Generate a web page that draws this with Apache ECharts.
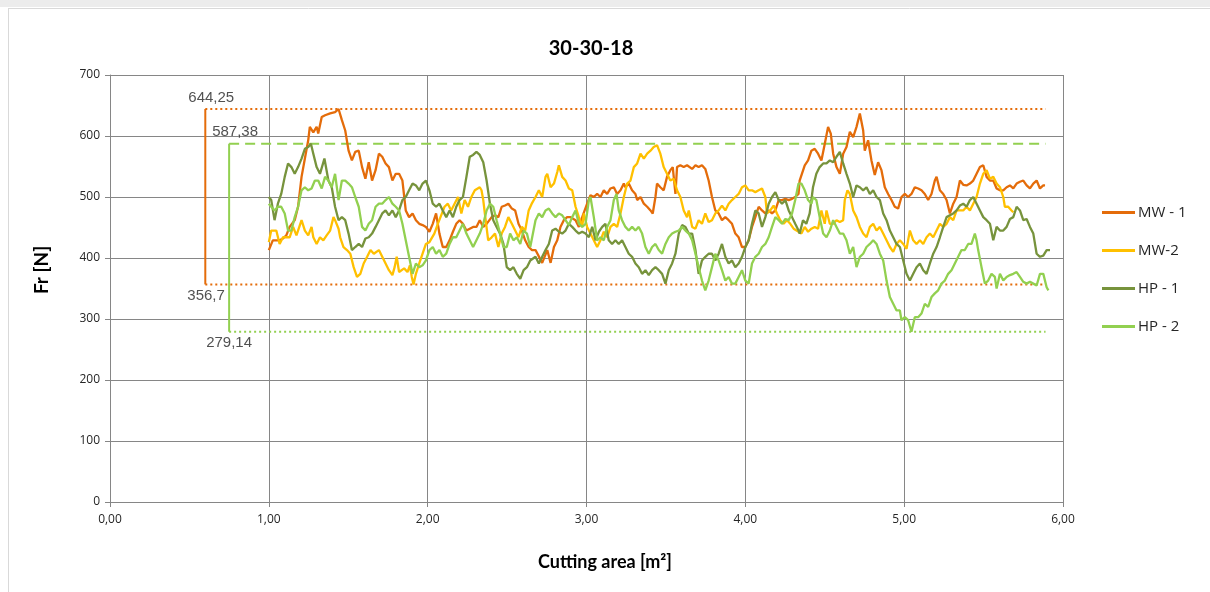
<!DOCTYPE html>
<html><head><meta charset="utf-8">
<script src="https://cdn.jsdelivr.net/npm/echarts@6/dist/echarts.min.js"></script>
<style>html,body{margin:0;padding:0;background:#fff}#c{width:1210px;height:592px}</style>
</head><body><div id="c"></div>
<script>
const chartTitle = '30-30-18';
const xAxisTitle = 'Cutting area [m²]';
const yAxisTitle = 'Fr [N]';
const seriesNames = ['MW - 1', 'MW-2', 'HP - 1', 'HP - 2'];
const seriesColors = ['#E46C0A', '#FFC000', '#77933C', '#92D050'];

const mw1 = [[1.000,413],[1.025,429],[1.068,429],[1.089,432],[1.110,437],[1.131,451],[1.163,462],[1.184,484],[1.206,533],[1.227,563],[1.248,593],[1.258,615],[1.280,606],[1.301,615],[1.311,604],[1.333,631],[1.354,634],[1.386,637],[1.417,639],[1.439,644.25],[1.460,626],[1.481,609],[1.502,576],[1.523,560],[1.544,574],[1.566,576],[1.587,549],[1.608,530],[1.629,557],[1.650,527],[1.672,544],[1.693,571],[1.714,566],[1.735,555],[1.756,549],[1.778,527],[1.799,538],[1.820,538],[1.841,527],[1.862,478],[1.883,467],[1.905,473],[1.926,462],[1.947,456],[1.968,454],[1.989,451],[2.011,443],[2.032,456],[2.053,473],[2.074,440],[2.095,418],[2.117,418],[2.138,429],[2.159,443],[2.180,456],[2.201,462],[2.222,456],[2.244,445],[2.265,448],[2.286,451],[2.307,451],[2.328,462],[2.350,451],[2.371,456],[2.403,467],[2.424,470],[2.445,467],[2.466,484],[2.487,486],[2.508,489],[2.530,481],[2.551,478],[2.572,456],[2.593,445],[2.614,429],[2.636,418],[2.657,413],
[2.679,413],[2.721,392],[2.753,413],[2.774,392],[2.795,418],[2.816,429],[2.836,451],[2.857,462],[2.878,467],[2.899,467],[2.931,462],[2.952,451],[2.973,467],[3.004,489],[3.025,503],[3.046,500],[3.067,505],[3.088,500],[3.109,511],[3.130,505],[3.151,514],[3.172,516],[3.193,505],[3.214,511],[3.235,522],[3.245,516],[3.266,522],[3.287,511],[3.308,505],[3.319,495],[3.340,500],[3.361,489],[3.382,484],[3.403,478],[3.417,473],[3.434,500],[3.444,522],[3.465,516],[3.486,511],[3.507,533],[3.528,544],[3.543,549],[3.560,505],[3.570,549],[3.591,552],[3.612,549],[3.633,552],[3.665,546],[3.686,552],[3.706,549],[3.727,552],[3.748,546],[3.769,527],[3.790,500],[3.811,478],[3.832,473],[3.853,462],[3.874,467],[3.895,462],[3.916,456],[3.937,440],[3.958,434],[3.979,418],[4.000,418],[4.021,429],[4.042,451],[4.063,467],[4.084,484],[4.105,478],[4.126,473],[4.147,478],[4.168,473],[4.189,478],[4.210,495],[4.231,495],[4.252,497],[4.273,495],[4.294,497],[4.314,500],[4.335,505],
[4.342,527],[4.374,552],[4.395,560],[4.416,576],[4.437,579],[4.458,571],[4.479,560],[4.500,587],[4.521,615],[4.538,604],[4.553,571],[4.574,549],[4.595,538],[4.616,571],[4.637,582],[4.658,607],[4.679,598],[4.700,615],[4.721,637],[4.742,609],[4.752,576],[4.773,593],[4.794,560],[4.815,536],[4.836,557],[4.857,544],[4.878,516],[4.899,505],[4.920,495],[4.941,484],[4.962,481],[4.983,500],[5.004,505],[5.025,500],[5.046,505],[5.067,516],[5.088,514],[5.109,511],[5.130,505],[5.151,495],[5.172,505],[5.193,527],[5.204,533],[5.225,511],[5.246,505],[5.267,495],[5.288,473],[5.309,489],[5.330,500],[5.351,527],[5.372,520],[5.393,519],[5.414,522],[5.435,527],[5.456,538],[5.477,549],[5.498,552],[5.519,533],[5.540,527],[5.561,527],[5.582,514],[5.603,511],[5.624,511],[5.645,516],[5.666,519],[5.687,514],[5.708,522],[5.729,525],[5.750,527],[5.771,519],[5.792,514],[5.813,522],[5.834,527],[5.855,514],[5.876,519],[5.887,519]];

const mw2 = [[1.000,426],[1.015,445],[1.047,445],[1.068,423],[1.089,434],[1.131,434],[1.153,451],[1.174,437],[1.206,462],[1.227,445],[1.248,437],[1.269,451],[1.280,434],[1.301,423],[1.322,434],[1.343,429],[1.364,437],[1.386,445],[1.407,467],[1.417,462],[1.439,448],[1.449,434],[1.470,418],[1.492,413],[1.513,407],[1.534,385],[1.555,369],[1.576,374],[1.597,391],[1.619,402],[1.640,413],[1.661,407],[1.693,413],[1.714,402],[1.735,391],[1.756,380],[1.778,372],[1.792,385],[1.805,402],[1.820,377],[1.852,383],[1.873,377],[1.888,388],[1.900,369],[1.911,356.7],[1.926,374],[1.947,391],[1.968,407],[1.989,423],[2.011,426],[2.042,440],[2.064,456],[2.085,470],[2.106,484],[2.127,489],[2.148,478],[2.191,500],[2.212,473],[2.233,495],[2.254,484],[2.275,500],[2.297,511],[2.328,516],[2.339,511],[2.350,495],[2.360,473],[2.381,429],[2.403,434],[2.424,440],[2.445,418],[2.466,440],[2.487,451],[2.508,467],[2.530,456],[2.551,445],[2.572,434],[2.593,451],[2.614,445],[2.636,478],[2.657,490],
[2.679,500],[2.700,511],[2.721,500],[2.742,533],[2.753,538],[2.774,516],[2.795,522],[2.816,541],[2.826,552],[2.847,533],[2.868,527],[2.889,514],[2.910,511],[2.931,484],[2.952,467],[2.973,451],[2.983,473],[3.004,451],[3.025,440],[3.046,429],[3.067,418],[3.088,429],[3.109,443],[3.130,434],[3.151,451],[3.172,456],[3.193,451],[3.214,473],[3.235,500],[3.256,522],[3.277,527],[3.298,549],[3.319,555],[3.340,571],[3.361,563],[3.382,571],[3.403,576],[3.423,582],[3.444,585],[3.465,571],[3.486,549],[3.507,538],[3.528,527],[3.549,530],[3.570,511],[3.591,500],[3.612,478],[3.633,467],[3.644,478],[3.665,451],[3.686,448],[3.706,462],[3.727,456],[3.748,473],[3.769,459],[3.790,462],[3.811,473],[3.832,478],[3.853,486],[3.874,478],[3.895,489],[3.916,495],[3.937,500],[3.958,505],[3.979,516],[4.000,519],[4.021,511],[4.042,511],[4.063,508],[4.084,511],[4.105,514],[4.126,500],[4.136,473],[4.157,478],[4.178,486],[4.199,473],[4.220,462],[4.241,456],[4.262,462],[4.283,456],[4.304,448],[4.335,443],
[4.353,440],[4.374,451],[4.395,443],[4.416,448],[4.437,451],[4.458,448],[4.479,478],[4.500,456],[4.511,478],[4.532,456],[4.553,456],[4.574,462],[4.595,459],[4.616,462],[4.626,495],[4.643,511],[4.658,505],[4.679,478],[4.700,467],[4.721,451],[4.742,440],[4.763,434],[4.784,451],[4.805,456],[4.826,445],[4.847,451],[4.868,440],[4.889,429],[4.910,418],[4.931,410],[4.952,423],[4.973,429],[4.994,423],[5.015,415],[5.036,445],[5.057,429],[5.078,423],[5.099,429],[5.120,423],[5.141,434],[5.162,440],[5.183,434],[5.204,445],[5.225,456],[5.246,451],[5.267,456],[5.288,467],[5.309,462],[5.330,478],[5.351,478],[5.372,478],[5.393,484],[5.414,478],[5.435,489],[5.456,500],[5.477,522],[5.498,538],[5.519,544],[5.540,530],[5.561,533],[5.582,522],[5.603,516],[5.624,500],[5.634,484],[5.655,484],[5.676,478],[5.687,475]];

const hp1 = [[1.000,500],[1.015,495],[1.036,462],[1.057,489],[1.078,505],[1.100,533],[1.121,555],[1.142,549],[1.163,538],[1.184,549],[1.206,563],[1.227,579],[1.248,582],[1.265,587.38],[1.280,571],[1.301,549],[1.322,538],[1.350,563],[1.375,527],[1.396,516],[1.417,484],[1.439,462],[1.460,467],[1.481,462],[1.502,440],[1.523,413],[1.544,418],[1.566,423],[1.587,418],[1.608,432],[1.629,434],[1.650,440],[1.672,451],[1.693,462],[1.714,473],[1.735,478],[1.756,470],[1.778,478],[1.799,467],[1.820,478],[1.841,495],[1.862,500],[1.883,511],[1.905,522],[1.926,519],[1.947,511],[1.968,522],[1.989,527],[2.011,511],[2.032,489],[2.053,484],[2.074,489],[2.095,478],[2.117,467],[2.138,478],[2.159,467],[2.180,484],[2.201,495],[2.222,500],[2.244,533],[2.265,566],[2.286,569],[2.307,574],[2.328,569],[2.350,557],[2.371,527],[2.392,489],[2.413,462],[2.434,451],[2.456,440],[2.477,423],[2.498,385],[2.519,380],[2.540,385],[2.561,374],[2.583,366],[2.604,380],[2.625,385],[2.646,396],
[2.679,402],[2.700,391],[2.721,402],[2.742,413],[2.763,423],[2.784,445],[2.805,448],[2.826,443],[2.847,440],[2.868,445],[2.889,456],[2.910,451],[2.931,445],[2.952,440],[2.973,443],[2.994,440],[3.015,434],[3.036,451],[3.057,429],[3.078,443],[3.099,451],[3.119,456],[3.140,429],[3.161,423],[3.182,429],[3.203,423],[3.224,429],[3.245,418],[3.266,407],[3.287,402],[3.308,391],[3.329,385],[3.350,374],[3.371,380],[3.392,372],[3.413,380],[3.434,385],[3.455,380],[3.476,374],[3.497,358],[3.518,380],[3.539,391],[3.560,407],[3.581,440],[3.602,454],[3.623,451],[3.644,440],[3.665,440],[3.686,413],[3.706,374],[3.727,396],[3.748,402],[3.769,407],[3.790,407],[3.811,396],[3.832,407],[3.853,423],[3.874,402],[3.895,391],[3.916,396],[3.937,385],[3.958,391],[3.979,402],[4.000,418],[4.021,429],[4.042,456],[4.063,478],[4.084,473],[4.105,451],[4.126,467],[4.147,489],[4.168,500],[4.189,508],[4.210,495],[4.231,489],[4.252,495],[4.273,478],[4.294,467],[4.314,456],[4.335,445],
[4.342,440],[4.363,462],[4.384,456],[4.405,473],[4.426,516],[4.447,538],[4.468,549],[4.490,555],[4.511,555],[4.532,560],[4.553,557],[4.574,566],[4.595,574],[4.616,555],[4.637,538],[4.658,522],[4.679,500],[4.700,519],[4.721,516],[4.742,511],[4.763,516],[4.784,505],[4.805,511],[4.826,500],[4.847,495],[4.868,473],[4.889,462],[4.910,445],[4.931,434],[4.952,423],[4.973,418],[4.994,396],[5.015,374],[5.036,363],[5.057,374],[5.078,385],[5.099,391],[5.120,380],[5.141,374],[5.162,391],[5.183,407],[5.204,418],[5.225,434],[5.246,451],[5.267,467],[5.288,470],[5.309,473],[5.330,478],[5.351,486],[5.372,489],[5.393,484],[5.414,495],[5.435,500],[5.456,489],[5.477,478],[5.498,467],[5.519,462],[5.540,456],[5.561,429],[5.582,451],[5.603,445],[5.624,445],[5.645,451],[5.666,464],[5.687,467],[5.708,484],[5.729,478],[5.750,462],[5.771,464],[5.792,451],[5.813,440],[5.834,407],[5.855,402],[5.876,404],[5.897,413],[5.918,413]];

const hp2 = [[1.000,489],[1.015,484],[1.036,478],[1.057,484],[1.078,484],[1.100,473],[1.121,445],[1.142,445],[1.163,467],[1.184,484],[1.206,511],[1.227,516],[1.248,511],[1.269,514],[1.290,527],[1.311,527],[1.333,514],[1.354,533],[1.375,527],[1.396,516],[1.417,538],[1.439,495],[1.460,527],[1.481,527],[1.502,522],[1.523,516],[1.544,500],[1.566,484],[1.587,451],[1.608,445],[1.629,456],[1.650,462],[1.672,484],[1.693,489],[1.714,489],[1.735,495],[1.756,500],[1.778,489],[1.799,484],[1.820,478],[1.841,456],[1.862,429],[1.883,402],[1.905,374],[1.926,391],[1.947,385],[1.968,388],[1.989,396],[2.011,413],[2.032,418],[2.053,407],[2.074,413],[2.095,402],[2.117,407],[2.138,423],[2.159,434],[2.180,434],[2.201,445],[2.222,456],[2.244,440],[2.265,429],[2.286,418],[2.307,429],[2.328,440],[2.350,456],[2.371,478],[2.392,489],[2.413,484],[2.434,462],[2.456,440],[2.477,418],[2.498,418],[2.519,440],[2.540,429],[2.561,434],[2.583,423],[2.604,445],[2.625,440],[2.646,418],
[2.679,462],[2.700,473],[2.721,467],[2.742,478],[2.763,481],[2.784,473],[2.805,467],[2.826,473],[2.847,470],[2.868,462],[2.889,454],[2.910,467],[2.931,478],[2.952,456],[2.973,451],[2.994,456],[3.015,495],[3.025,500],[3.046,467],[3.067,429],[3.088,434],[3.109,429],[3.130,451],[3.151,462],[3.172,495],[3.189,505],[3.203,478],[3.224,462],[3.245,451],[3.266,445],[3.287,451],[3.308,445],[3.329,451],[3.350,440],[3.371,418],[3.392,407],[3.413,418],[3.434,423],[3.455,413],[3.476,407],[3.497,423],[3.518,434],[3.539,440],[3.560,443],[3.581,445],[3.602,451],[3.623,445],[3.644,440],[3.665,429],[3.686,407],[3.706,385],[3.727,363],[3.748,347],[3.769,363],[3.790,385],[3.811,407],[3.832,396],[3.853,380],[3.874,363],[3.895,369],[3.916,358],[3.937,358],[3.958,369],[3.979,380],[4.000,363],[4.021,358],[4.042,391],[4.063,402],[4.084,407],[4.105,418],[4.126,423],[4.147,434],[4.168,451],[4.189,467],[4.210,462],[4.231,456],[4.252,464],[4.273,462],[4.294,473],[4.314,495],[4.335,522],
[4.353,522],[4.374,511],[4.395,495],[4.416,489],[4.426,500],[4.447,495],[4.468,467],[4.490,440],[4.511,434],[4.532,445],[4.553,462],[4.574,451],[4.595,440],[4.616,440],[4.637,429],[4.658,407],[4.679,418],[4.700,385],[4.721,402],[4.742,407],[4.763,418],[4.784,423],[4.805,429],[4.826,423],[4.847,407],[4.868,396],[4.889,363],[4.910,336],[4.931,325],[4.952,314],[4.973,314],[4.983,298],[5.004,303],[5.025,298],[5.046,279.14],[5.067,303],[5.088,303],[5.109,309],[5.130,325],[5.151,320],[5.172,336],[5.193,342],[5.214,347],[5.235,358],[5.256,363],[5.277,374],[5.298,380],[5.319,391],[5.340,402],[5.361,413],[5.382,413],[5.403,423],[5.424,423],[5.445,440],[5.456,429],[5.466,413],[5.487,385],[5.508,358],[5.529,363],[5.550,374],[5.571,369],[5.582,350],[5.603,374],[5.624,363],[5.645,369],[5.666,372],[5.687,374],[5.708,377],[5.729,369],[5.750,361],[5.771,358],[5.792,361],[5.813,358],[5.834,355],[5.855,374],[5.876,374],[5.897,352],[5.908,347]];

// reference band values
const mwMax = 644.25, mwMin = 356.7, hpMax = 587.38, hpMin = 279.14;
const mwBarX = 0.60, hpBarX = 0.75, refEndX = 5.89;

const fmt = v => String(v).replace('.', ',');
const chart = echarts.init(document.getElementById('c'), null, {renderer: 'canvas'});

const dataSeries = [mw1, mw2, hp1, hp2].map((d, i) => ({
  name: seriesNames[i], type: 'line', data: d, showSymbol: false, symbol: 'none',
  lineStyle: {color: seriesColors[i], width: 2.3}, itemStyle: {color: seriesColors[i]},
  z: 3 + i, silent: true
}));

function refLine(pts, color, type) {
  return {type: 'line', data: pts, symbol: 'none', silent: true, z: 2,
    lineStyle: {color: color, width: 2, type: type}, itemStyle: {color: color}};
}

const labelStyle = {show: true, color: '#262626', fontSize: 15, fontFamily: 'Liberation Sans, Arial, sans-serif', formatter: p => fmt(p.value[1])};

chart.setOption({
  animation: false,
  backgroundColor: '#fff',
  title: {text: chartTitle, left: 586, top: 34, textAlign: 'center',
    textStyle: {fontSize: 20, fontWeight: 'bold', color: '#000', fontFamily: 'Lato, sans-serif'}},
  legend: {
    orient: 'vertical', left: 1097, top: 200, itemWidth: 33, itemHeight: 3, itemGap: 23,
    icon: 'rect', data: seriesNames,
    textStyle: {fontSize: 15, color: '#262626', fontFamily: 'Open Sans, sans-serif', padding: [0, 0, 0, -2]}
  },
  grid: {left: 110, right: 147, top: 75, bottom: 90},
  xAxis: {
    type: 'value', min: 0, max: 6, interval: 1,
    axisLine: {show: true, lineStyle: {color: '#868686'}},
    axisTick: {show: true, length: 5, lineStyle: {color: '#868686'}},
    splitLine: {show: true, lineStyle: {color: '#868686', width: 1}},
    axisLabel: {color: '#262626', fontSize: 12, margin: 12, fontFamily: 'Open Sans, sans-serif', formatter: v => v.toFixed(2).replace('.', ',')}
  },
  yAxis: {
    type: 'value', min: 0, max: 700, interval: 100,
    axisLine: {show: true, lineStyle: {color: '#868686'}},
    axisTick: {show: true, length: 5, lineStyle: {color: '#868686'}},
    splitLine: {show: true, lineStyle: {color: '#868686', width: 1}},
    axisLabel: {color: '#262626', fontSize: 12, margin: 10, fontFamily: 'Open Sans, sans-serif'}
  },
  graphic: [
    {type: 'rect', shape: {x: 0, y: 0, width: 1210, height: 7}, style: {fill: '#ececec'}, silent: true},
    {type: 'line', shape: {x1: 8.5, y1: 8, x2: 8.5, y2: 592}, style: {stroke: '#d9d9d9', lineWidth: 1}, silent: true},
    {type: 'line', shape: {x1: 8, y1: 8.5, x2: 1210, y2: 8.5}, style: {stroke: '#d9d9d9', lineWidth: 1}, silent: true},
    {type: 'text', x: 42, y: 270, rotation: Math.PI / 2,
      style: {text: yAxisTitle, fontSize: 19, fontWeight: 'bold', fill: '#000', align: 'center', verticalAlign: 'middle', fontFamily: 'Lato, sans-serif'}},
    {type: 'text', x: 605, y: 562,
      style: {text: xAxisTitle, fontSize: 18, fontWeight: 'bold', fill: '#000', align: 'center', verticalAlign: 'middle', fontFamily: 'Lato, sans-serif'}}
  ],
  series: [
    refLine([[mwBarX, mwMax], [refEndX, mwMax]], '#E46C0A', [2, 3]),
    refLine([[mwBarX, mwMin], [refEndX, mwMin]], '#E46C0A', [2, 3]),
    refLine([[mwBarX, mwMin], [mwBarX, mwMax]], '#E46C0A', 'solid'),
    refLine([[hpBarX, hpMax], [refEndX, hpMax]], '#92D050', [10, 6]),
    refLine([[hpBarX, hpMin], [refEndX, hpMin]], '#92D050', [2, 3]),
    refLine([[hpBarX, hpMin], [hpBarX, hpMax]], '#92D050', 'solid'),
    {type: 'scatter', symbolSize: 0, silent: true, z: 10,
      data: [
        {value: [mwBarX, mwMax], label: Object.assign({}, labelStyle, {position: 'top', align: 'left', distance: 4, offset: [-17, 0]})},
        {value: [mwBarX, mwMin], label: Object.assign({}, labelStyle, {position: 'bottom', align: 'left', distance: 4, offset: [-18, 0]})},
        {value: [hpBarX, hpMax], label: Object.assign({}, labelStyle, {position: 'top', align: 'left', distance: 4, offset: [-17, 0]})},
        {value: [hpBarX, hpMin], label: Object.assign({}, labelStyle, {position: 'bottom', align: 'left', distance: 4, offset: [-23, 0]})}
      ]}
  ].concat(dataSeries)
});
</script></body></html>
